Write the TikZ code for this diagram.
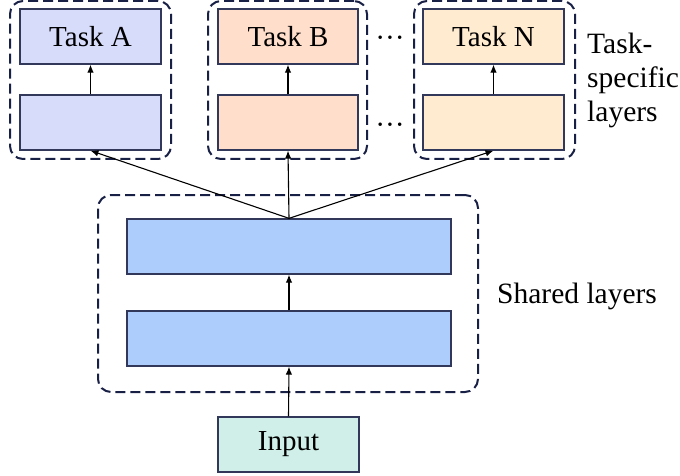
\documentclass[tikz,border=0pt]{standalone}
\usepackage{fontspec}
\setmainfont{Liberation Serif}
\newfontfamily\tms{Liberation Serif}
\usetikzlibrary{arrows.meta}
\definecolor{cA}{HTML}{D8DCFB}
\definecolor{cB}{HTML}{FFDECB}
\definecolor{cN}{HTML}{FFEBD0}
\definecolor{cS}{HTML}{ADCDFD}
\definecolor{cI}{HTML}{CFEFE8}
\definecolor{bord}{RGB}{50,56,90}
\definecolor{dash}{RGB}{25,32,70}
\begin{document}
\begin{tikzpicture}[x=1pt,y=-1pt,
  layer/.style={draw=bord,line width=1.3pt,minimum height=55pt,inner sep=0pt,font=\tms\fontsize{29}{34}\selectfont},
  group/.style={draw=dash,line width=2pt,dash pattern=on 10pt off 5pt,rounded corners=13pt,inner sep=0pt},
  conn/.style={line width=1.1pt,-{Latex[length=8pt,width=6.5pt]}},
  lbl/.style={font=\tms\fontsize{29.5}{34}\selectfont,inner sep=0pt}]
\useasboundingbox (0,0) rectangle (680,476);
% groups
\node[group,minimum width=161pt,minimum height=158pt] (gA) at (90.5,80) {};
\node[group,minimum width=159pt,minimum height=158pt] (gB) at (287.5,80) {};
\node[group,minimum width=161pt,minimum height=158pt] (gN) at (494.5,80) {};
\node[group,minimum width=380pt,minimum height=197pt] (gS) at (288,293.5) {};
% task layers
\node[layer,fill=cA,minimum width=141pt] (tA) at (90.5,36.5) {Task A};
\node[layer,fill=cA,minimum width=141pt] (lA) at (90.5,122.5) {};
\node[layer,fill=cB,minimum width=140pt] (tB) at (288,36.5) {Task B};
\node[layer,fill=cB,minimum width=140pt] (lB) at (288,122.5) {};
\node[layer,fill=cN,minimum width=141pt] (tN) at (493.5,36.5) {Task N};
\node[layer,fill=cN,minimum width=141pt] (lN) at (493.5,122.5) {};
% shared layers
\node[layer,fill=cS,minimum width=324pt] (s2) at (289,246.5) {};
\node[layer,fill=cS,minimum width=324pt] (s1) at (289,338.5) {};
\node[layer,fill=cI,minimum width=141pt] (in) at (288.5,444.5) {Input};
% dots
\node[lbl] (d1) at (390,42) {···};
\node[lbl] (d2) at (390,129) {···};
% labels
\node[lbl,anchor=west,align=left] (ts) at (587,80) {Task-\\specific\\layers};
\node[lbl,anchor=west] (sl) at (497,296) {Shared layers};
% connectors
\draw[conn] (lA.north) -- (tA.south);
\draw[conn] (lB.north) -- (tB.south);
\draw[conn] (lN.north) -- (tN.south);
\draw[conn] (s1.north) -- (s2.south);
\draw[conn] (in.north) -- (s1.south);
\draw[conn] (s2.north) -- (lA.south);
\draw[conn] (s2.north) -- (lB.south);
\draw[conn] (s2.north) -- (lN.south);
\end{tikzpicture}
\end{document}
